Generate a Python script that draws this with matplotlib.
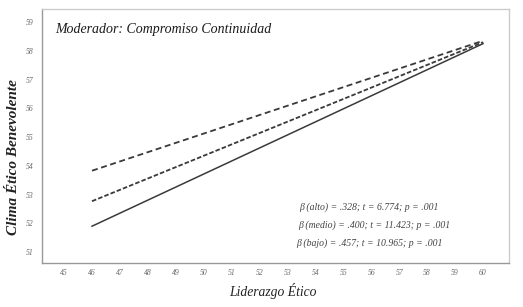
import matplotlib
matplotlib.use("Agg")
import matplotlib.pyplot as plt
import numpy as np

plt.rcParams['font.family'] = ['Liberation Serif', 'DejaVu Serif']
plt.rcParams['lines.scale_dashes'] = False

x_vals = [46, 60]
alto = [53.83, 58.35]
medio = [52.77, 58.30]
bajo = [51.90, 58.25]
x_ticks = list(range(45, 61))
y_ticks = list(range(51, 60))
annotations = [
    "β (alto) = .328; t = 6.774; p = .001",
    "β (medio) = .400; t = 11.423; p = .001",
    "β (bajo) = .457; t = 10.965; p = .001",
]

fig = plt.figure(figsize=(5.23, 3.07), dpi=100)
ax = fig.add_axes([0.0803, 0.1433, 0.893, 0.827])

lc = '#3a3a3a'
ax.plot(x_vals, alto, color=lc, lw=1.3, dashes=(4.3, 2.6))
ax.plot(x_vals, medio, color=lc, lw=1.3, dashes=(3.3, 1.5))
ax.plot(x_vals, bajo, color=lc, lw=1.1)

ax.set_xlim(44.21, 60.93)
ax.set_ylim(50.62, 59.45)
ax.set_xticks(x_ticks)
ax.set_yticks(y_ticks)
ax.tick_params(length=0, labelsize=5.5, labelcolor='#666666')
ax.tick_params(axis='x', pad=4)
ax.tick_params(axis='y', pad=6)
for lab in ax.get_xticklabels() + ax.get_yticklabels():
    lab.set_fontstyle('italic')

for s in ['top', 'right']:
    ax.spines[s].set_color('#cccccc')
    ax.spines[s].set_linewidth(1.0)
for s in ['left', 'bottom']:
    ax.spines[s].set_color('#999999')
    ax.spines[s].set_linewidth(1.0)

ax.text(0.028, 0.92, "Moderador: Compromiso Continuidad", transform=ax.transAxes,
        fontsize=10, fontstyle='italic', color='#1a1a1a', va='center', ha='left')

ys = [207, 225, 243]
xs = [299, 298, 296]
for t, yp, xp in zip(annotations, ys, xs):
    fig.text(xp / 523, 1 - yp / 307, t, fontsize=7.0, fontstyle='italic',
             color='#444444', va='center', ha='left')

ax.set_xlabel("Liderazgo Ético", fontsize=9.8, fontstyle='italic', color='#222222')
ax.xaxis.set_label_coords((273 - 42) / 467, (263 - 283) / 254)
ax.set_ylabel("Clima Ético Benevolente", fontsize=11, fontstyle='italic', fontweight='bold',
              color='#222222')
ax.yaxis.set_label_coords((20 - 42) / 467, (263 - 157) / 254)

fig.savefig("out.png", dpi=100)
